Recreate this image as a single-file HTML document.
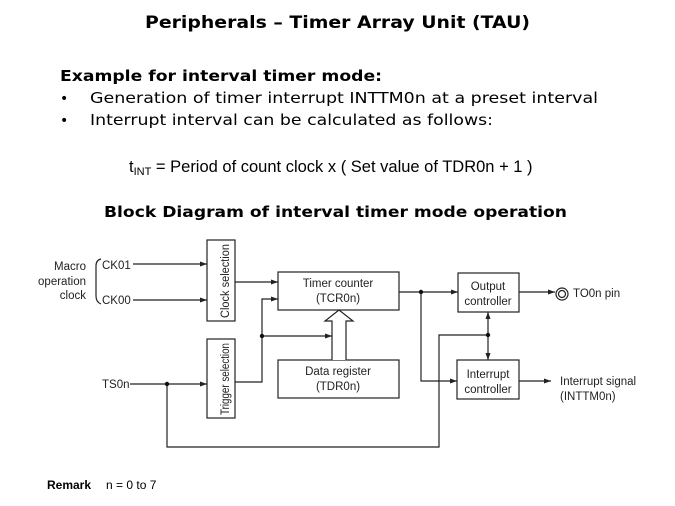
<!DOCTYPE html>
<html><head><meta charset="utf-8"><style>html,body{margin:0;padding:0;background:#fff}svg{display:block}</style></head>
<body>
<svg width="675" height="506" viewBox="0 0 675 506" xmlns="http://www.w3.org/2000/svg">
<defs>
<marker id="a" markerWidth="8" markerHeight="6" refX="7" refY="3" orient="auto" markerUnits="userSpaceOnUse"><path d="M0,0.5 L7,3 L0,5.5 z" fill="#222"/></marker>
</defs>
<g font-family="'DejaVu Sans', sans-serif" fill="#000">
<text x="145" y="28" font-weight="bold" font-size="17" textLength="385" lengthAdjust="spacingAndGlyphs">Peripherals – Timer Array Unit (TAU)</text>
<text x="60" y="81" font-weight="bold" font-size="15" textLength="322" lengthAdjust="spacingAndGlyphs">Example for interval timer mode:</text>
<text x="60" y="103" font-size="14">•</text>
<text x="90" y="103" font-size="15" textLength="508" lengthAdjust="spacingAndGlyphs">Generation of timer interrupt INTTM0n at a preset interval</text>
<text x="60" y="125" font-size="14">•</text>
<text x="90" y="125" font-size="15" textLength="403" lengthAdjust="spacingAndGlyphs">Interrupt interval can be calculated as follows:</text>
<text x="104" y="217" font-weight="bold" font-size="15" textLength="463" lengthAdjust="spacingAndGlyphs">Block Diagram of interval timer mode operation</text>
</g>
<g font-family="'Liberation Sans', sans-serif" fill="#000">
<text x="129" y="172" font-size="16.5">t<tspan font-size="11" dy="3">INT</tspan><tspan dy="-3"> = Period of count clock x ( Set value of TDR0n + 1 )</tspan></text>
</g>
<g font-family="'Liberation Sans', sans-serif" font-size="11.5" fill="#222" stroke="none">
<text x="86" y="270" text-anchor="end">Macro</text>
<text x="86" y="285" text-anchor="end">operation</text>
<text x="86" y="299" text-anchor="end">clock</text>
<text x="102" y="269">CK01</text>
<text x="102" y="304">CK00</text>
<text x="102" y="388">TS0n</text>
<text transform="translate(229,281) rotate(-90)" text-anchor="middle" textLength="74" lengthAdjust="spacingAndGlyphs">Clock selection</text>
<text transform="translate(229,379) rotate(-90)" text-anchor="middle" textLength="72" lengthAdjust="spacingAndGlyphs">Trigger selection</text>
<text x="338" y="287" text-anchor="middle">Timer counter</text>
<text x="338" y="302" text-anchor="middle">(TCR0n)</text>
<text x="338" y="375" text-anchor="middle">Data register</text>
<text x="338" y="390" text-anchor="middle">(TDR0n)</text>
<text x="488" y="290" text-anchor="middle">Output</text>
<text x="488" y="305" text-anchor="middle">controller</text>
<text x="488" y="378" text-anchor="middle">Interrupt</text>
<text x="488" y="393" text-anchor="middle">controller</text>
<text x="573" y="297">TO0n pin</text>
<text x="560" y="385">Interrupt signal</text>
<text x="560" y="400">(INTTM0n)</text>
<text x="47" y="489" font-weight="bold" font-size="12" fill="#000">Remark</text>
<text x="106" y="489" font-size="12" fill="#000">n = 0 to 7</text>
</g>
<g fill="none" stroke="#222" stroke-width="1.2">
<path d="M101,259 Q96,260 96,266 L96,296 Q96,302 101,304"/>
<rect x="207" y="240" width="28" height="81"/>
<rect x="207" y="339" width="28" height="79"/>
<rect x="278" y="272" width="121" height="38"/>
<rect x="278" y="360" width="121" height="38"/>
<rect x="458" y="273" width="61" height="39"/>
<rect x="457" y="360" width="62" height="39"/>
<line x1="133" y1="264" x2="207" y2="264" marker-end="url(#a)"/>
<line x1="133" y1="300" x2="207" y2="300" marker-end="url(#a)"/>
<line x1="235" y1="282" x2="278" y2="282" marker-end="url(#a)"/>
<line x1="130" y1="384" x2="207" y2="384" marker-end="url(#a)"/>
<path d="M235,382 L262,382 L262,299 L278,299" marker-end="url(#a)"/>
<line x1="262" y1="336" x2="332" y2="336" marker-end="url(#a)"/>
<path d="M332,360 L332,321 L325,321 L339,310 L353,321 L346,321 L346,360" fill="#fff"/>
<path d="M167,384 L167,447 L439,447 L439,335 L488,335"/>
<line x1="399" y1="292" x2="458" y2="292" marker-end="url(#a)"/>
<path d="M421,292 L421,381 L457,381" marker-end="url(#a)"/>
<line x1="488" y1="335" x2="488" y2="312" marker-end="url(#a)"/>
<line x1="488" y1="335" x2="488" y2="360" marker-end="url(#a)"/>
<line x1="519" y1="292" x2="555" y2="292" marker-end="url(#a)"/>
<circle cx="562" cy="294" r="6"/>
<circle cx="562" cy="294" r="3.5"/>
<line x1="519" y1="381" x2="551" y2="381" marker-end="url(#a)"/>
</g>
<g fill="#111">
<circle cx="167" cy="384" r="2.2"/>
<circle cx="262" cy="336" r="2.2"/>
<circle cx="421" cy="292" r="2.2"/>
<circle cx="488" cy="335" r="2.2"/>
</g>
</svg>
</body></html>
